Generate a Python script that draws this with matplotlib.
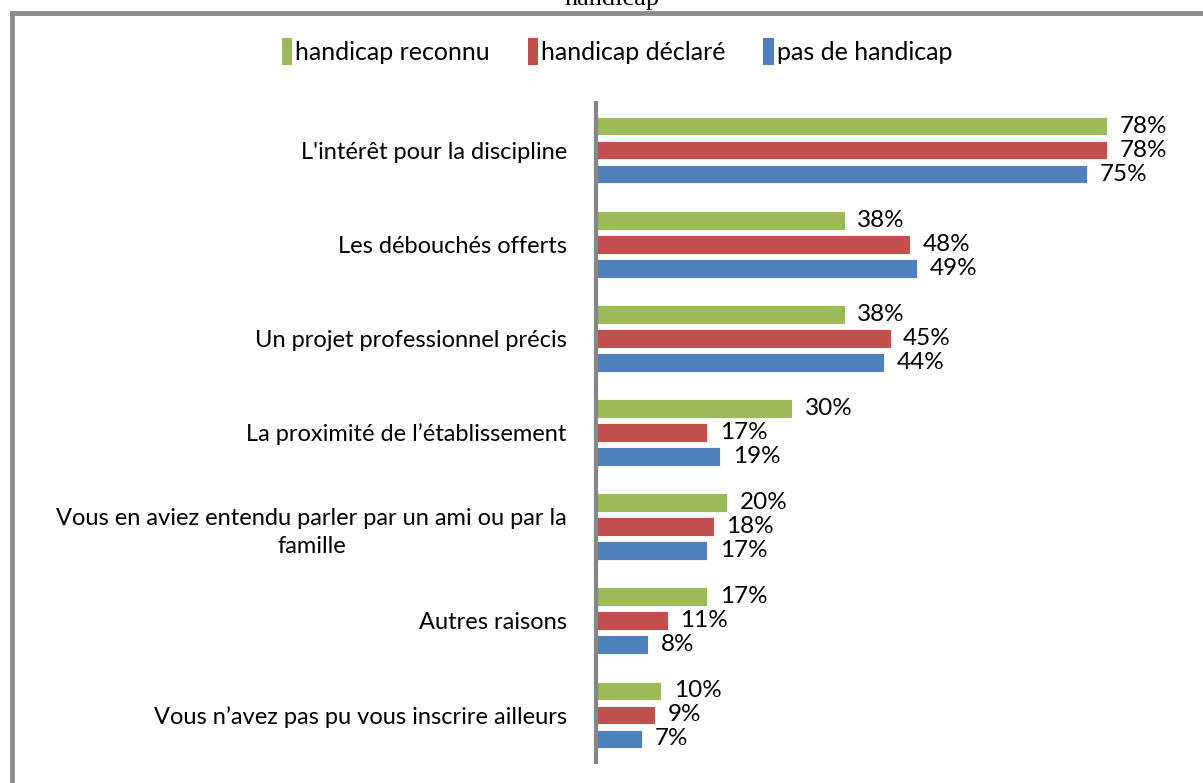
import numpy as np
import matplotlib
matplotlib.use("Agg")
import matplotlib.pyplot as plt
from matplotlib.lines import Line2D
from matplotlib.patches import Patch

plt.rcParams['font.family'] = ['Lato', 'DejaVu Sans']

# Data
categories = [
    "L'intérêt pour la discipline",
    "Les débouchés offerts",
    "Un projet professionnel précis",
    "La proximité de l\u2019établissement",
    "Vous en aviez entendu parler par un ami ou par la\nfamille",
    "Autres raisons",
    "Vous n\u2019avez pas pu vous inscrire ailleurs",
]
series_names = ["handicap reconnu", "handicap déclaré", "pas de handicap"]
reconnu = [78, 38, 38, 30, 20, 17, 10]
declare = [78, 48, 45, 17, 18, 11, 9]
pas_handicap = [75, 49, 44, 19, 17, 8, 7]
colors = ["#9BBB59", "#C0504D", "#4F81BD"]

fig = plt.figure(figsize=(12.03, 7.83), dpi=100)
ax = fig.add_axes([0.4954, 0.0268, 0.49, 0.8417])

y = np.arange(len(categories))
slot = 0.255
height = 0.2
for i, (vals, col) in enumerate(zip([reconnu, declare, pas_handicap], colors)):
    pos = y + (i - 1) * slot
    ax.barh(pos, vals, height=height, color=col, edgecolor='white', linewidth=0.6)
    for p, v in zip(pos, vals):
        ax.text(v + 1.9, p, f"{v}%", va='center', ha='left', fontsize=17.5, color='black')

ax.set_xlim(0, 90)
ax.set_ylim(len(categories) - 0.5, -0.5)
ax.set_yticks(y)
ax.set_yticklabels(categories, fontsize=17, multialignment='center', linespacing=1.45)
ax.tick_params(axis='y', length=0, pad=21)
ax.set_xticks([])
for s in ['top', 'right', 'bottom']:
    ax.spines[s].set_visible(False)
ax.spines['left'].set_color('#868686')
ax.spines['left'].set_linewidth(3)

# Legend
handles = [Patch(facecolor=c, edgecolor='none') for c in colors]
fig.legend(handles, series_names, loc='center', bbox_to_anchor=(617 / 1203, 0.934), ncol=3,
           frameon=False, fontsize=18, handlelength=0.42, handleheight=1.3,
           handletextpad=0.12, columnspacing=1.5)

# Border (top and left only visible)
fig.add_artist(Line2D([12 / 1203, 1], [1 - 13 / 783, 1 - 13 / 783], color='#8C8C8C', lw=3.5))
fig.add_artist(Line2D([12 / 1203, 12 / 1203], [0, 1 - 13 / 783], color='#8C8C8C', lw=3.5))

# Cut-off title
fig.text(612 / 1203, 1 - 5 / 783, "handicap", ha='center', va='baseline',
         fontsize=19, family=['Liberation Serif', 'DejaVu Serif'])

fig.savefig("out.png", dpi=100)
